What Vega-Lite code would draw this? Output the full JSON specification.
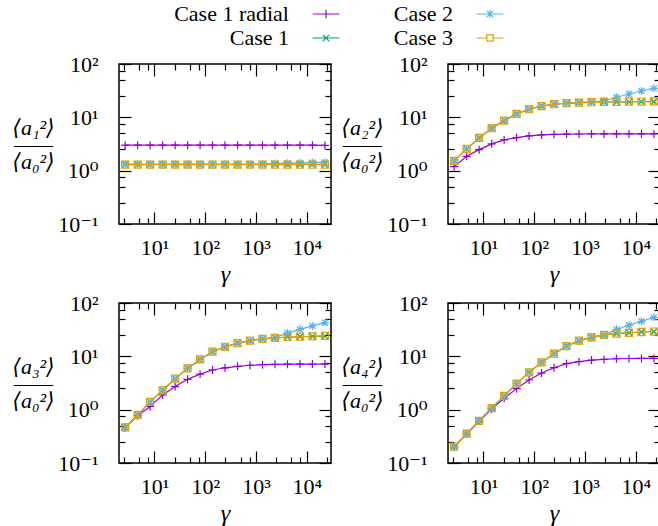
{
"$schema":"https://vega.github.io/schema/vega-lite/v6.json",
"padding":{"left":11,"top":3,"right":2,"bottom":2},
"bounds":"flush",
"columns":2,
"spacing":{"row":79,"column":117},
"data":{"values":[
{"panel":"a1","series":"Case 1 radial","gamma":2.64,"value":3.0},{"panel":"a1","series":"Case 1 radial","gamma":4.66,"value":3.0},{"panel":"a1","series":"Case 1 radial","gamma":8.2,"value":3.0},{"panel":"a1","series":"Case 1 radial","gamma":14.5,"value":3.0},{"panel":"a1","series":"Case 1 radial","gamma":25.5,"value":3.0},{"panel":"a1","series":"Case 1 radial","gamma":44.9,"value":3.0},{"panel":"a1","series":"Case 1 radial","gamma":79.1,"value":3.0},{"panel":"a1","series":"Case 1 radial","gamma":139,"value":3.0},{"panel":"a1","series":"Case 1 radial","gamma":245,"value":3.0},{"panel":"a1","series":"Case 1 radial","gamma":433,"value":3.0},{"panel":"a1","series":"Case 1 radial","gamma":762,"value":3.0},{"panel":"a1","series":"Case 1 radial","gamma":1343,"value":3.0},{"panel":"a1","series":"Case 1 radial","gamma":2366,"value":3.0},{"panel":"a1","series":"Case 1 radial","gamma":4169,"value":3.0},{"panel":"a1","series":"Case 1 radial","gamma":7345,"value":3.0},{"panel":"a1","series":"Case 1 radial","gamma":12940,"value":3.0},{"panel":"a1","series":"Case 1 radial","gamma":22800,"value":2.98},
{"panel":"a1","series":"Case 1","gamma":2.64,"value":1.31},{"panel":"a1","series":"Case 1","gamma":4.66,"value":1.31},{"panel":"a1","series":"Case 1","gamma":8.2,"value":1.31},{"panel":"a1","series":"Case 1","gamma":14.5,"value":1.31},{"panel":"a1","series":"Case 1","gamma":25.5,"value":1.31},{"panel":"a1","series":"Case 1","gamma":44.9,"value":1.31},{"panel":"a1","series":"Case 1","gamma":79.1,"value":1.31},{"panel":"a1","series":"Case 1","gamma":139,"value":1.31},{"panel":"a1","series":"Case 1","gamma":245,"value":1.31},{"panel":"a1","series":"Case 1","gamma":433,"value":1.31},{"panel":"a1","series":"Case 1","gamma":762,"value":1.31},{"panel":"a1","series":"Case 1","gamma":1343,"value":1.31},{"panel":"a1","series":"Case 1","gamma":2366,"value":1.31},{"panel":"a1","series":"Case 1","gamma":4169,"value":1.31},{"panel":"a1","series":"Case 1","gamma":7345,"value":1.31},{"panel":"a1","series":"Case 1","gamma":12940,"value":1.31},{"panel":"a1","series":"Case 1","gamma":22800,"value":1.31},
{"panel":"a1","series":"Case 2","gamma":2.64,"value":1.32},{"panel":"a1","series":"Case 2","gamma":4.66,"value":1.32},{"panel":"a1","series":"Case 2","gamma":8.2,"value":1.32},{"panel":"a1","series":"Case 2","gamma":14.5,"value":1.32},{"panel":"a1","series":"Case 2","gamma":25.5,"value":1.32},{"panel":"a1","series":"Case 2","gamma":44.9,"value":1.32},{"panel":"a1","series":"Case 2","gamma":79.1,"value":1.32},{"panel":"a1","series":"Case 2","gamma":139,"value":1.32},{"panel":"a1","series":"Case 2","gamma":245,"value":1.32},{"panel":"a1","series":"Case 2","gamma":433,"value":1.32},{"panel":"a1","series":"Case 2","gamma":762,"value":1.32},{"panel":"a1","series":"Case 2","gamma":1343,"value":1.34},{"panel":"a1","series":"Case 2","gamma":2366,"value":1.36},{"panel":"a1","series":"Case 2","gamma":4169,"value":1.38},{"panel":"a1","series":"Case 2","gamma":7345,"value":1.40},{"panel":"a1","series":"Case 2","gamma":12940,"value":1.42},{"panel":"a1","series":"Case 2","gamma":22800,"value":1.44},
{"panel":"a1","series":"Case 3","gamma":2.64,"value":1.30},{"panel":"a1","series":"Case 3","gamma":4.66,"value":1.30},{"panel":"a1","series":"Case 3","gamma":8.2,"value":1.30},{"panel":"a1","series":"Case 3","gamma":14.5,"value":1.30},{"panel":"a1","series":"Case 3","gamma":25.5,"value":1.30},{"panel":"a1","series":"Case 3","gamma":44.9,"value":1.30},{"panel":"a1","series":"Case 3","gamma":79.1,"value":1.30},{"panel":"a1","series":"Case 3","gamma":139,"value":1.30},{"panel":"a1","series":"Case 3","gamma":245,"value":1.30},{"panel":"a1","series":"Case 3","gamma":433,"value":1.30},{"panel":"a1","series":"Case 3","gamma":762,"value":1.30},{"panel":"a1","series":"Case 3","gamma":1343,"value":1.30},{"panel":"a1","series":"Case 3","gamma":2366,"value":1.30},{"panel":"a1","series":"Case 3","gamma":4169,"value":1.30},{"panel":"a1","series":"Case 3","gamma":7345,"value":1.30},{"panel":"a1","series":"Case 3","gamma":12940,"value":1.30},{"panel":"a1","series":"Case 3","gamma":22800,"value":1.30},
{"panel":"a2","series":"Case 1 radial","gamma":2.64,"value":1.19},{"panel":"a2","series":"Case 1 radial","gamma":4.66,"value":1.86},{"panel":"a2","series":"Case 1 radial","gamma":8.2,"value":2.48},{"panel":"a2","series":"Case 1 radial","gamma":14.5,"value":3.18},{"panel":"a2","series":"Case 1 radial","gamma":25.5,"value":3.78},{"panel":"a2","series":"Case 1 radial","gamma":44.9,"value":4.17},{"panel":"a2","series":"Case 1 radial","gamma":79.1,"value":4.49},{"panel":"a2","series":"Case 1 radial","gamma":139,"value":4.68},{"panel":"a2","series":"Case 1 radial","gamma":245,"value":4.8},{"panel":"a2","series":"Case 1 radial","gamma":433,"value":4.85},{"panel":"a2","series":"Case 1 radial","gamma":762,"value":4.87},{"panel":"a2","series":"Case 1 radial","gamma":1343,"value":4.88},{"panel":"a2","series":"Case 1 radial","gamma":2366,"value":4.88},{"panel":"a2","series":"Case 1 radial","gamma":4169,"value":4.88},{"panel":"a2","series":"Case 1 radial","gamma":7345,"value":4.88},{"panel":"a2","series":"Case 1 radial","gamma":12940,"value":4.88},{"panel":"a2","series":"Case 1 radial","gamma":22800,"value":4.88},
{"panel":"a2","series":"Case 1","gamma":2.64,"value":1.53},{"panel":"a2","series":"Case 1","gamma":4.66,"value":2.56},{"panel":"a2","series":"Case 1","gamma":8.2,"value":4.11},{"panel":"a2","series":"Case 1","gamma":14.5,"value":6.25},{"panel":"a2","series":"Case 1","gamma":25.5,"value":8.67},{"panel":"a2","series":"Case 1","gamma":44.9,"value":11.6},{"panel":"a2","series":"Case 1","gamma":79.1,"value":14.2},{"panel":"a2","series":"Case 1","gamma":139,"value":16.3},{"panel":"a2","series":"Case 1","gamma":245,"value":17.6},{"panel":"a2","series":"Case 1","gamma":433,"value":18.4},{"panel":"a2","series":"Case 1","gamma":762,"value":18.8},{"panel":"a2","series":"Case 1","gamma":1343,"value":19.2},{"panel":"a2","series":"Case 1","gamma":2366,"value":19.4},{"panel":"a2","series":"Case 1","gamma":4169,"value":19.5},{"panel":"a2","series":"Case 1","gamma":7345,"value":19.5},{"panel":"a2","series":"Case 1","gamma":12940,"value":19.6},{"panel":"a2","series":"Case 1","gamma":22800,"value":19.6},
{"panel":"a2","series":"Case 2","gamma":2.64,"value":1.53},{"panel":"a2","series":"Case 2","gamma":4.66,"value":2.56},{"panel":"a2","series":"Case 2","gamma":8.2,"value":4.11},{"panel":"a2","series":"Case 2","gamma":14.5,"value":6.25},{"panel":"a2","series":"Case 2","gamma":25.5,"value":8.67},{"panel":"a2","series":"Case 2","gamma":44.9,"value":11.6},{"panel":"a2","series":"Case 2","gamma":79.1,"value":14.2},{"panel":"a2","series":"Case 2","gamma":139,"value":16.3},{"panel":"a2","series":"Case 2","gamma":245,"value":17.6},{"panel":"a2","series":"Case 2","gamma":433,"value":18.4},{"panel":"a2","series":"Case 2","gamma":762,"value":18.9},{"panel":"a2","series":"Case 2","gamma":1343,"value":19.4},{"panel":"a2","series":"Case 2","gamma":2366,"value":20.3},{"panel":"a2","series":"Case 2","gamma":4169,"value":23.8},{"panel":"a2","series":"Case 2","gamma":7345,"value":27.4},{"panel":"a2","series":"Case 2","gamma":12940,"value":31.2},{"panel":"a2","series":"Case 2","gamma":22800,"value":35.0},
{"panel":"a2","series":"Case 3","gamma":2.64,"value":1.53},{"panel":"a2","series":"Case 3","gamma":4.66,"value":2.56},{"panel":"a2","series":"Case 3","gamma":8.2,"value":4.11},{"panel":"a2","series":"Case 3","gamma":14.5,"value":6.25},{"panel":"a2","series":"Case 3","gamma":25.5,"value":8.67},{"panel":"a2","series":"Case 3","gamma":44.9,"value":11.6},{"panel":"a2","series":"Case 3","gamma":79.1,"value":14.2},{"panel":"a2","series":"Case 3","gamma":139,"value":16.3},{"panel":"a2","series":"Case 3","gamma":245,"value":17.6},{"panel":"a2","series":"Case 3","gamma":433,"value":18.4},{"panel":"a2","series":"Case 3","gamma":762,"value":18.8},{"panel":"a2","series":"Case 3","gamma":1343,"value":19.2},{"panel":"a2","series":"Case 3","gamma":2366,"value":19.4},{"panel":"a2","series":"Case 3","gamma":4169,"value":19.6},{"panel":"a2","series":"Case 3","gamma":7345,"value":19.7},{"panel":"a2","series":"Case 3","gamma":12940,"value":19.8},{"panel":"a2","series":"Case 3","gamma":22800,"value":19.9},
{"panel":"a3","series":"Case 1 radial","gamma":2.64,"value":0.46},{"panel":"a3","series":"Case 1 radial","gamma":4.66,"value":0.77},{"panel":"a3","series":"Case 1 radial","gamma":8.2,"value":1.15},{"panel":"a3","series":"Case 1 radial","gamma":14.5,"value":1.89},{"panel":"a3","series":"Case 1 radial","gamma":25.5,"value":2.71},{"panel":"a3","series":"Case 1 radial","gamma":44.9,"value":3.71},{"panel":"a3","series":"Case 1 radial","gamma":79.1,"value":4.63},{"panel":"a3","series":"Case 1 radial","gamma":139,"value":5.55},{"panel":"a3","series":"Case 1 radial","gamma":245,"value":6.1},{"panel":"a3","series":"Case 1 radial","gamma":433,"value":6.5},{"panel":"a3","series":"Case 1 radial","gamma":762,"value":6.8},{"panel":"a3","series":"Case 1 radial","gamma":1343,"value":6.97},{"panel":"a3","series":"Case 1 radial","gamma":2366,"value":7.07},{"panel":"a3","series":"Case 1 radial","gamma":4169,"value":7.13},{"panel":"a3","series":"Case 1 radial","gamma":7345,"value":7.16},{"panel":"a3","series":"Case 1 radial","gamma":12940,"value":7.16},{"panel":"a3","series":"Case 1 radial","gamma":22800,"value":7.16},
{"panel":"a3","series":"Case 1","gamma":2.64,"value":0.466},{"panel":"a3","series":"Case 1","gamma":4.66,"value":0.8},{"panel":"a3","series":"Case 1","gamma":8.2,"value":1.4},{"panel":"a3","series":"Case 1","gamma":14.5,"value":2.31},{"panel":"a3","series":"Case 1","gamma":25.5,"value":3.82},{"panel":"a3","series":"Case 1","gamma":44.9,"value":5.94},{"panel":"a3","series":"Case 1","gamma":79.1,"value":8.75},{"panel":"a3","series":"Case 1","gamma":139,"value":12.2},{"panel":"a3","series":"Case 1","gamma":245,"value":15.1},{"panel":"a3","series":"Case 1","gamma":433,"value":17.6},{"panel":"a3","series":"Case 1","gamma":762,"value":19.8},{"panel":"a3","series":"Case 1","gamma":1343,"value":21.3},{"panel":"a3","series":"Case 1","gamma":2366,"value":22.2},{"panel":"a3","series":"Case 1","gamma":4169,"value":22.8},{"panel":"a3","series":"Case 1","gamma":7345,"value":23.3},{"panel":"a3","series":"Case 1","gamma":12940,"value":23.7},{"panel":"a3","series":"Case 1","gamma":22800,"value":24.0},
{"panel":"a3","series":"Case 2","gamma":2.64,"value":0.466},{"panel":"a3","series":"Case 2","gamma":4.66,"value":0.8},{"panel":"a3","series":"Case 2","gamma":8.2,"value":1.4},{"panel":"a3","series":"Case 2","gamma":14.5,"value":2.31},{"panel":"a3","series":"Case 2","gamma":25.5,"value":3.82},{"panel":"a3","series":"Case 2","gamma":44.9,"value":5.94},{"panel":"a3","series":"Case 2","gamma":79.1,"value":8.75},{"panel":"a3","series":"Case 2","gamma":139,"value":12.2},{"panel":"a3","series":"Case 2","gamma":245,"value":15.1},{"panel":"a3","series":"Case 2","gamma":433,"value":17.6},{"panel":"a3","series":"Case 2","gamma":762,"value":19.6},{"panel":"a3","series":"Case 2","gamma":1343,"value":21.3},{"panel":"a3","series":"Case 2","gamma":2366,"value":22.4},{"panel":"a3","series":"Case 2","gamma":4169,"value":27.5},{"panel":"a3","series":"Case 2","gamma":7345,"value":32.1},{"panel":"a3","series":"Case 2","gamma":12940,"value":37.2},{"panel":"a3","series":"Case 2","gamma":22800,"value":42.9},
{"panel":"a3","series":"Case 3","gamma":2.64,"value":0.466},{"panel":"a3","series":"Case 3","gamma":4.66,"value":0.8},{"panel":"a3","series":"Case 3","gamma":8.2,"value":1.4},{"panel":"a3","series":"Case 3","gamma":14.5,"value":2.31},{"panel":"a3","series":"Case 3","gamma":25.5,"value":3.82},{"panel":"a3","series":"Case 3","gamma":44.9,"value":5.94},{"panel":"a3","series":"Case 3","gamma":79.1,"value":8.75},{"panel":"a3","series":"Case 3","gamma":139,"value":12.2},{"panel":"a3","series":"Case 3","gamma":245,"value":15.1},{"panel":"a3","series":"Case 3","gamma":433,"value":17.6},{"panel":"a3","series":"Case 3","gamma":762,"value":19.8},{"panel":"a3","series":"Case 3","gamma":1343,"value":21.3},{"panel":"a3","series":"Case 3","gamma":2366,"value":22.2},{"panel":"a3","series":"Case 3","gamma":4169,"value":22.9},{"panel":"a3","series":"Case 3","gamma":7345,"value":23.4},{"panel":"a3","series":"Case 3","gamma":12940,"value":23.8},{"panel":"a3","series":"Case 3","gamma":22800,"value":24.2},
{"panel":"a4","series":"Case 1 radial","gamma":2.64,"value":0.2},{"panel":"a4","series":"Case 1 radial","gamma":4.66,"value":0.35},{"panel":"a4","series":"Case 1 radial","gamma":8.2,"value":0.61},{"panel":"a4","series":"Case 1 radial","gamma":14.5,"value":1.03},{"panel":"a4","series":"Case 1 radial","gamma":25.5,"value":1.64},{"panel":"a4","series":"Case 1 radial","gamma":44.9,"value":2.48},{"panel":"a4","series":"Case 1 radial","gamma":79.1,"value":3.6},{"panel":"a4","series":"Case 1 radial","gamma":139,"value":4.86},{"panel":"a4","series":"Case 1 radial","gamma":245,"value":6.12},{"panel":"a4","series":"Case 1 radial","gamma":433,"value":7.28},{"panel":"a4","series":"Case 1 radial","gamma":762,"value":7.93},{"panel":"a4","series":"Case 1 radial","gamma":1343,"value":8.5},{"panel":"a4","series":"Case 1 radial","gamma":2366,"value":8.75},{"panel":"a4","series":"Case 1 radial","gamma":4169,"value":9.0},{"panel":"a4","series":"Case 1 radial","gamma":7345,"value":9.1},{"panel":"a4","series":"Case 1 radial","gamma":12940,"value":9.14},{"panel":"a4","series":"Case 1 radial","gamma":22800,"value":9.14},
{"panel":"a4","series":"Case 1","gamma":2.64,"value":0.202},{"panel":"a4","series":"Case 1","gamma":4.66,"value":0.354},{"panel":"a4","series":"Case 1","gamma":8.2,"value":0.618},{"panel":"a4","series":"Case 1","gamma":14.5,"value":1.07},{"panel":"a4","series":"Case 1","gamma":25.5,"value":1.81},{"panel":"a4","series":"Case 1","gamma":44.9,"value":3.08},{"panel":"a4","series":"Case 1","gamma":79.1,"value":5.01},{"panel":"a4","series":"Case 1","gamma":139,"value":7.69},{"panel":"a4","series":"Case 1","gamma":245,"value":11.2},{"panel":"a4","series":"Case 1","gamma":433,"value":15.5},{"panel":"a4","series":"Case 1","gamma":762,"value":19.8},{"panel":"a4","series":"Case 1","gamma":1343,"value":22.8},{"panel":"a4","series":"Case 1","gamma":2366,"value":25.3},{"panel":"a4","series":"Case 1","gamma":4169,"value":26.7},{"panel":"a4","series":"Case 1","gamma":7345,"value":27.6},{"panel":"a4","series":"Case 1","gamma":12940,"value":28.6},{"panel":"a4","series":"Case 1","gamma":22800,"value":29.2},
{"panel":"a4","series":"Case 2","gamma":2.64,"value":0.202},{"panel":"a4","series":"Case 2","gamma":4.66,"value":0.354},{"panel":"a4","series":"Case 2","gamma":8.2,"value":0.618},{"panel":"a4","series":"Case 2","gamma":14.5,"value":1.07},{"panel":"a4","series":"Case 2","gamma":25.5,"value":1.81},{"panel":"a4","series":"Case 2","gamma":44.9,"value":3.08},{"panel":"a4","series":"Case 2","gamma":79.1,"value":5.01},{"panel":"a4","series":"Case 2","gamma":139,"value":7.69},{"panel":"a4","series":"Case 2","gamma":245,"value":11.2},{"panel":"a4","series":"Case 2","gamma":433,"value":15.5},{"panel":"a4","series":"Case 2","gamma":762,"value":19.4},{"panel":"a4","series":"Case 2","gamma":1343,"value":22.3},{"panel":"a4","series":"Case 2","gamma":2366,"value":25.0},{"panel":"a4","series":"Case 2","gamma":4169,"value":32.1},{"panel":"a4","series":"Case 2","gamma":7345,"value":38.2},{"panel":"a4","series":"Case 2","gamma":12940,"value":45.4},{"panel":"a4","series":"Case 2","gamma":22800,"value":53.8},
{"panel":"a4","series":"Case 3","gamma":2.64,"value":0.202},{"panel":"a4","series":"Case 3","gamma":4.66,"value":0.354},{"panel":"a4","series":"Case 3","gamma":8.2,"value":0.618},{"panel":"a4","series":"Case 3","gamma":14.5,"value":1.07},{"panel":"a4","series":"Case 3","gamma":25.5,"value":1.81},{"panel":"a4","series":"Case 3","gamma":44.9,"value":3.08},{"panel":"a4","series":"Case 3","gamma":79.1,"value":5.01},{"panel":"a4","series":"Case 3","gamma":139,"value":7.69},{"panel":"a4","series":"Case 3","gamma":245,"value":11.2},{"panel":"a4","series":"Case 3","gamma":433,"value":15.5},{"panel":"a4","series":"Case 3","gamma":762,"value":19.8},{"panel":"a4","series":"Case 3","gamma":1343,"value":22.8},{"panel":"a4","series":"Case 3","gamma":2366,"value":25.3},{"panel":"a4","series":"Case 3","gamma":4169,"value":26.7},{"panel":"a4","series":"Case 3","gamma":7345,"value":27.6},{"panel":"a4","series":"Case 3","gamma":12940,"value":28.6},{"panel":"a4","series":"Case 3","gamma":22800,"value":29.2}
]},
"concat":[
{"width":212,"height":160,
"transform":[{"filter":"datum.panel == 'a1'"}],
"encoding":{"color":{"field":"series","type":"nominal","scale":{"domain":["Case 1 radial","Case 1","Case 2","Case 3"],"range":["#9400d3","#009e73","#56b4e9","#e69f00"]},"legend":{"orient":"none","legendX":186,"legendY":-61,"columns":2,"title":null,"labelAlign":"right","labelOffset":-48,"symbolOffset":10,"symbolSize":196,"symbolStrokeWidth":1.2,"rowPadding":2,"columnPadding":51,"labelLimit":0,"encode":{"symbols":{"update":{"shape":{"signal":"datum.value == 'Case 1 radial' ? 'M-1.9,0L1.9,0M0,-0.6L0,0.6' : datum.value == 'Case 1' ? 'M-1.9,0L1.9,0M-0.45,-0.45L0.45,0.45M-0.45,0.45L0.45,-0.45' : datum.value == 'Case 2' ? 'M-1.9,0L1.9,0M0,-0.6L0,0.6M-0.45,-0.45L0.45,0.45M-0.45,0.45L0.45,-0.45' : 'M-1.9,0L-0.45,0M0.45,0L1.9,0M-0.45,-0.45L0.45,-0.45L0.45,0.45L-0.45,0.45Z'"},"fill":{"value":"transparent"}}}}}}},
"layer":[
{"transform":[{"filter":"datum.series == 'Case 1 radial'"}],"mark":{"type":"line","strokeWidth":1.2,"point":{"shape":"M-1,0L1,0M0,-1L0,1","filled":false,"size":64,"strokeWidth":1.2}},
"encoding":{"x":{"field":"gamma","type":"quantitative","scale":{"type":"log","domain":[2,30000],"nice":false},"axis":{"orient":"bottom","values":[10,100,1000,10000],"tickSize":-12,"labelPadding":25,"labelExpr":"datum.value < 50 ? '10¹' : datum.value < 500 ? '10²' : datum.value < 5000 ? '10³' : '10⁴'","labelFlush":false,"labelOverlap":false,"title":"γ","titleFontStyle":"italic","titleFontSize":24,"titleY":57,"titleBaseline":"alphabetic","domain":false}},
"y":{"field":"value","type":"quantitative","scale":{"type":"log","domain":[0.1,100],"nice":false},"axis":{"orient":"left","values":[0.1,1,10,100],"tickSize":-12,"labelPadding":33,"labelExpr":"datum.value < 0.5 ? '10⁻¹' : datum.value < 5 ? '10⁰' : datum.value < 50 ? '10¹' : '10²'","labelFlush":false,"labelOverlap":false,"labelBaseline":"middle","title":["⟨a₁²⟩","——","⟨a₀²⟩"],"titleAngle":0,"titleAlign":"center","titleBaseline":"middle","titleX":-86,"titleY":63,"titleLineHeight":17,"titleFontStyle":"italic","domain":false}}}},
{"transform":[{"filter":"datum.series == 'Case 1'"}],"mark":{"type":"line","strokeWidth":1.2,"point":{"shape":"M-0.8,-0.8L0.8,0.8M-0.8,0.8L0.8,-0.8","filled":false,"size":64,"strokeWidth":1.2}},
"encoding":{"x":{"field":"gamma","type":"quantitative","scale":{"type":"log","domain":[2,30000],"nice":false},"axis":{"orient":"bottom","values":[2.5,5,7.5,25,50,75,250,500,750,2500,5000,7500,25000],"tickSize":-6,"labels":false,"title":null,"domain":false}},
"y":{"field":"value","type":"quantitative","scale":{"type":"log","domain":[0.1,100],"nice":false},"axis":{"orient":"left","values":[0.25,0.5,0.75,2.5,5,7.5,25,50,75],"tickSize":-6,"labels":false,"title":null,"domain":false}}}},
{"transform":[{"filter":"datum.series == 'Case 2'"}],"mark":{"type":"line","strokeWidth":1.2,"point":{"shape":"M-1,0L1,0M0,-1L0,1M-0.75,-0.75L0.75,0.75M-0.75,0.75L0.75,-0.75","filled":false,"size":64,"strokeWidth":1.2}},
"encoding":{"x":{"field":"gamma","type":"quantitative","scale":{"type":"log","domain":[2,30000],"nice":false},"axis":{"orient":"top","values":[10,100,1000,10000],"tickSize":-12,"labels":false,"title":null,"domain":false}},
"y":{"field":"value","type":"quantitative","scale":{"type":"log","domain":[0.1,100],"nice":false},"axis":{"orient":"right","values":[0.1,1,10,100],"tickSize":-12,"labels":false,"title":null,"domain":false}}}},
{"transform":[{"filter":"datum.series == 'Case 3'"}],"mark":{"type":"line","strokeWidth":1.2,"point":{"shape":"square","filled":false,"size":50,"strokeWidth":1.2}},
"encoding":{"x":{"field":"gamma","type":"quantitative","scale":{"type":"log","domain":[2,30000],"nice":false},"axis":{"orient":"top","values":[2.5,5,7.5,25,50,75,250,500,750,2500,5000,7500,25000],"tickSize":-6,"labels":false,"title":null,"domain":false}},
"y":{"field":"value","type":"quantitative","scale":{"type":"log","domain":[0.1,100],"nice":false},"axis":{"orient":"right","values":[0.25,0.5,0.75,2.5,5,7.5,25,50,75],"tickSize":-6,"labels":false,"title":null,"domain":false}}}}
],
"resolve":{"axis":{"x":"independent","y":"independent"}}},
{"width":212,"height":160,
"transform":[{"filter":"datum.panel == 'a2'"}],
"encoding":{"color":{"field":"series","type":"nominal","scale":{"domain":["Case 1 radial","Case 1","Case 2","Case 3"],"range":["#9400d3","#009e73","#56b4e9","#e69f00"]},"legend":{"orient":"none","legendX":186,"legendY":-61,"columns":2,"title":null,"labelAlign":"right","labelOffset":-48,"symbolOffset":10,"symbolSize":196,"symbolStrokeWidth":1.2,"rowPadding":2,"columnPadding":51,"labelLimit":0,"encode":{"symbols":{"update":{"shape":{"signal":"datum.value == 'Case 1 radial' ? 'M-1.9,0L1.9,0M0,-0.6L0,0.6' : datum.value == 'Case 1' ? 'M-1.9,0L1.9,0M-0.45,-0.45L0.45,0.45M-0.45,0.45L0.45,-0.45' : datum.value == 'Case 2' ? 'M-1.9,0L1.9,0M0,-0.6L0,0.6M-0.45,-0.45L0.45,0.45M-0.45,0.45L0.45,-0.45' : 'M-1.9,0L-0.45,0M0.45,0L1.9,0M-0.45,-0.45L0.45,-0.45L0.45,0.45L-0.45,0.45Z'"},"fill":{"value":"transparent"}}}}}}},
"layer":[
{"transform":[{"filter":"datum.series == 'Case 1 radial'"}],"mark":{"type":"line","strokeWidth":1.2,"point":{"shape":"M-1,0L1,0M0,-1L0,1","filled":false,"size":64,"strokeWidth":1.2}},
"encoding":{"x":{"field":"gamma","type":"quantitative","scale":{"type":"log","domain":[2,30000],"nice":false},"axis":{"orient":"bottom","values":[10,100,1000,10000],"tickSize":-12,"labelPadding":25,"labelExpr":"datum.value < 50 ? '10¹' : datum.value < 500 ? '10²' : datum.value < 5000 ? '10³' : '10⁴'","labelFlush":false,"labelOverlap":false,"title":"γ","titleFontStyle":"italic","titleFontSize":24,"titleY":57,"titleBaseline":"alphabetic","domain":false}},
"y":{"field":"value","type":"quantitative","scale":{"type":"log","domain":[0.1,100],"nice":false},"axis":{"orient":"left","values":[0.1,1,10,100],"tickSize":-12,"labelPadding":33,"labelExpr":"datum.value < 0.5 ? '10⁻¹' : datum.value < 5 ? '10⁰' : datum.value < 50 ? '10¹' : '10²'","labelFlush":false,"labelOverlap":false,"labelBaseline":"middle","title":["⟨a₂²⟩","——","⟨a₀²⟩"],"titleAngle":0,"titleAlign":"center","titleBaseline":"middle","titleX":-86,"titleY":63,"titleLineHeight":17,"titleFontStyle":"italic","domain":false}}}},
{"transform":[{"filter":"datum.series == 'Case 1'"}],"mark":{"type":"line","strokeWidth":1.2,"point":{"shape":"M-0.8,-0.8L0.8,0.8M-0.8,0.8L0.8,-0.8","filled":false,"size":64,"strokeWidth":1.2}},
"encoding":{"x":{"field":"gamma","type":"quantitative","scale":{"type":"log","domain":[2,30000],"nice":false},"axis":{"orient":"bottom","values":[2.5,5,7.5,25,50,75,250,500,750,2500,5000,7500,25000],"tickSize":-6,"labels":false,"title":null,"domain":false}},
"y":{"field":"value","type":"quantitative","scale":{"type":"log","domain":[0.1,100],"nice":false},"axis":{"orient":"left","values":[0.25,0.5,0.75,2.5,5,7.5,25,50,75],"tickSize":-6,"labels":false,"title":null,"domain":false}}}},
{"transform":[{"filter":"datum.series == 'Case 2'"}],"mark":{"type":"line","strokeWidth":1.2,"point":{"shape":"M-1,0L1,0M0,-1L0,1M-0.75,-0.75L0.75,0.75M-0.75,0.75L0.75,-0.75","filled":false,"size":64,"strokeWidth":1.2}},
"encoding":{"x":{"field":"gamma","type":"quantitative","scale":{"type":"log","domain":[2,30000],"nice":false},"axis":{"orient":"top","values":[10,100,1000,10000],"tickSize":-12,"labels":false,"title":null,"domain":false}},
"y":{"field":"value","type":"quantitative","scale":{"type":"log","domain":[0.1,100],"nice":false},"axis":{"orient":"right","values":[0.1,1,10,100],"tickSize":-12,"labels":false,"title":null,"domain":false}}}},
{"transform":[{"filter":"datum.series == 'Case 3'"}],"mark":{"type":"line","strokeWidth":1.2,"point":{"shape":"square","filled":false,"size":50,"strokeWidth":1.2}},
"encoding":{"x":{"field":"gamma","type":"quantitative","scale":{"type":"log","domain":[2,30000],"nice":false},"axis":{"orient":"top","values":[2.5,5,7.5,25,50,75,250,500,750,2500,5000,7500,25000],"tickSize":-6,"labels":false,"title":null,"domain":false}},
"y":{"field":"value","type":"quantitative","scale":{"type":"log","domain":[0.1,100],"nice":false},"axis":{"orient":"right","values":[0.25,0.5,0.75,2.5,5,7.5,25,50,75],"tickSize":-6,"labels":false,"title":null,"domain":false}}}}
],
"resolve":{"axis":{"x":"independent","y":"independent"}}},
{"width":212,"height":160,
"transform":[{"filter":"datum.panel == 'a3'"}],
"encoding":{"color":{"field":"series","type":"nominal","scale":{"domain":["Case 1 radial","Case 1","Case 2","Case 3"],"range":["#9400d3","#009e73","#56b4e9","#e69f00"]},"legend":{"orient":"none","legendX":186,"legendY":-61,"columns":2,"title":null,"labelAlign":"right","labelOffset":-48,"symbolOffset":10,"symbolSize":196,"symbolStrokeWidth":1.2,"rowPadding":2,"columnPadding":51,"labelLimit":0,"encode":{"symbols":{"update":{"shape":{"signal":"datum.value == 'Case 1 radial' ? 'M-1.9,0L1.9,0M0,-0.6L0,0.6' : datum.value == 'Case 1' ? 'M-1.9,0L1.9,0M-0.45,-0.45L0.45,0.45M-0.45,0.45L0.45,-0.45' : datum.value == 'Case 2' ? 'M-1.9,0L1.9,0M0,-0.6L0,0.6M-0.45,-0.45L0.45,0.45M-0.45,0.45L0.45,-0.45' : 'M-1.9,0L-0.45,0M0.45,0L1.9,0M-0.45,-0.45L0.45,-0.45L0.45,0.45L-0.45,0.45Z'"},"fill":{"value":"transparent"}}}}}}},
"layer":[
{"transform":[{"filter":"datum.series == 'Case 1 radial'"}],"mark":{"type":"line","strokeWidth":1.2,"point":{"shape":"M-1,0L1,0M0,-1L0,1","filled":false,"size":64,"strokeWidth":1.2}},
"encoding":{"x":{"field":"gamma","type":"quantitative","scale":{"type":"log","domain":[2,30000],"nice":false},"axis":{"orient":"bottom","values":[10,100,1000,10000],"tickSize":-12,"labelPadding":25,"labelExpr":"datum.value < 50 ? '10¹' : datum.value < 500 ? '10²' : datum.value < 5000 ? '10³' : '10⁴'","labelFlush":false,"labelOverlap":false,"title":"γ","titleFontStyle":"italic","titleFontSize":24,"titleY":57,"titleBaseline":"alphabetic","domain":false}},
"y":{"field":"value","type":"quantitative","scale":{"type":"log","domain":[0.1,100],"nice":false},"axis":{"orient":"left","values":[0.1,1,10,100],"tickSize":-12,"labelPadding":33,"labelExpr":"datum.value < 0.5 ? '10⁻¹' : datum.value < 5 ? '10⁰' : datum.value < 50 ? '10¹' : '10²'","labelFlush":false,"labelOverlap":false,"labelBaseline":"middle","title":["⟨a₃²⟩","——","⟨a₀²⟩"],"titleAngle":0,"titleAlign":"center","titleBaseline":"middle","titleX":-86,"titleY":63,"titleLineHeight":17,"titleFontStyle":"italic","domain":false}}}},
{"transform":[{"filter":"datum.series == 'Case 1'"}],"mark":{"type":"line","strokeWidth":1.2,"point":{"shape":"M-0.8,-0.8L0.8,0.8M-0.8,0.8L0.8,-0.8","filled":false,"size":64,"strokeWidth":1.2}},
"encoding":{"x":{"field":"gamma","type":"quantitative","scale":{"type":"log","domain":[2,30000],"nice":false},"axis":{"orient":"bottom","values":[2.5,5,7.5,25,50,75,250,500,750,2500,5000,7500,25000],"tickSize":-6,"labels":false,"title":null,"domain":false}},
"y":{"field":"value","type":"quantitative","scale":{"type":"log","domain":[0.1,100],"nice":false},"axis":{"orient":"left","values":[0.25,0.5,0.75,2.5,5,7.5,25,50,75],"tickSize":-6,"labels":false,"title":null,"domain":false}}}},
{"transform":[{"filter":"datum.series == 'Case 2'"}],"mark":{"type":"line","strokeWidth":1.2,"point":{"shape":"M-1,0L1,0M0,-1L0,1M-0.75,-0.75L0.75,0.75M-0.75,0.75L0.75,-0.75","filled":false,"size":64,"strokeWidth":1.2}},
"encoding":{"x":{"field":"gamma","type":"quantitative","scale":{"type":"log","domain":[2,30000],"nice":false},"axis":{"orient":"top","values":[10,100,1000,10000],"tickSize":-12,"labels":false,"title":null,"domain":false}},
"y":{"field":"value","type":"quantitative","scale":{"type":"log","domain":[0.1,100],"nice":false},"axis":{"orient":"right","values":[0.1,1,10,100],"tickSize":-12,"labels":false,"title":null,"domain":false}}}},
{"transform":[{"filter":"datum.series == 'Case 3'"}],"mark":{"type":"line","strokeWidth":1.2,"point":{"shape":"square","filled":false,"size":50,"strokeWidth":1.2}},
"encoding":{"x":{"field":"gamma","type":"quantitative","scale":{"type":"log","domain":[2,30000],"nice":false},"axis":{"orient":"top","values":[2.5,5,7.5,25,50,75,250,500,750,2500,5000,7500,25000],"tickSize":-6,"labels":false,"title":null,"domain":false}},
"y":{"field":"value","type":"quantitative","scale":{"type":"log","domain":[0.1,100],"nice":false},"axis":{"orient":"right","values":[0.25,0.5,0.75,2.5,5,7.5,25,50,75],"tickSize":-6,"labels":false,"title":null,"domain":false}}}}
],
"resolve":{"axis":{"x":"independent","y":"independent"}}},
{"width":212,"height":160,
"transform":[{"filter":"datum.panel == 'a4'"}],
"encoding":{"color":{"field":"series","type":"nominal","scale":{"domain":["Case 1 radial","Case 1","Case 2","Case 3"],"range":["#9400d3","#009e73","#56b4e9","#e69f00"]},"legend":{"orient":"none","legendX":186,"legendY":-61,"columns":2,"title":null,"labelAlign":"right","labelOffset":-48,"symbolOffset":10,"symbolSize":196,"symbolStrokeWidth":1.2,"rowPadding":2,"columnPadding":51,"labelLimit":0,"encode":{"symbols":{"update":{"shape":{"signal":"datum.value == 'Case 1 radial' ? 'M-1.9,0L1.9,0M0,-0.6L0,0.6' : datum.value == 'Case 1' ? 'M-1.9,0L1.9,0M-0.45,-0.45L0.45,0.45M-0.45,0.45L0.45,-0.45' : datum.value == 'Case 2' ? 'M-1.9,0L1.9,0M0,-0.6L0,0.6M-0.45,-0.45L0.45,0.45M-0.45,0.45L0.45,-0.45' : 'M-1.9,0L-0.45,0M0.45,0L1.9,0M-0.45,-0.45L0.45,-0.45L0.45,0.45L-0.45,0.45Z'"},"fill":{"value":"transparent"}}}}}}},
"layer":[
{"transform":[{"filter":"datum.series == 'Case 1 radial'"}],"mark":{"type":"line","strokeWidth":1.2,"point":{"shape":"M-1,0L1,0M0,-1L0,1","filled":false,"size":64,"strokeWidth":1.2}},
"encoding":{"x":{"field":"gamma","type":"quantitative","scale":{"type":"log","domain":[2,30000],"nice":false},"axis":{"orient":"bottom","values":[10,100,1000,10000],"tickSize":-12,"labelPadding":25,"labelExpr":"datum.value < 50 ? '10¹' : datum.value < 500 ? '10²' : datum.value < 5000 ? '10³' : '10⁴'","labelFlush":false,"labelOverlap":false,"title":"γ","titleFontStyle":"italic","titleFontSize":24,"titleY":57,"titleBaseline":"alphabetic","domain":false}},
"y":{"field":"value","type":"quantitative","scale":{"type":"log","domain":[0.1,100],"nice":false},"axis":{"orient":"left","values":[0.1,1,10,100],"tickSize":-12,"labelPadding":33,"labelExpr":"datum.value < 0.5 ? '10⁻¹' : datum.value < 5 ? '10⁰' : datum.value < 50 ? '10¹' : '10²'","labelFlush":false,"labelOverlap":false,"labelBaseline":"middle","title":["⟨a₄²⟩","——","⟨a₀²⟩"],"titleAngle":0,"titleAlign":"center","titleBaseline":"middle","titleX":-86,"titleY":63,"titleLineHeight":17,"titleFontStyle":"italic","domain":false}}}},
{"transform":[{"filter":"datum.series == 'Case 1'"}],"mark":{"type":"line","strokeWidth":1.2,"point":{"shape":"M-0.8,-0.8L0.8,0.8M-0.8,0.8L0.8,-0.8","filled":false,"size":64,"strokeWidth":1.2}},
"encoding":{"x":{"field":"gamma","type":"quantitative","scale":{"type":"log","domain":[2,30000],"nice":false},"axis":{"orient":"bottom","values":[2.5,5,7.5,25,50,75,250,500,750,2500,5000,7500,25000],"tickSize":-6,"labels":false,"title":null,"domain":false}},
"y":{"field":"value","type":"quantitative","scale":{"type":"log","domain":[0.1,100],"nice":false},"axis":{"orient":"left","values":[0.25,0.5,0.75,2.5,5,7.5,25,50,75],"tickSize":-6,"labels":false,"title":null,"domain":false}}}},
{"transform":[{"filter":"datum.series == 'Case 2'"}],"mark":{"type":"line","strokeWidth":1.2,"point":{"shape":"M-1,0L1,0M0,-1L0,1M-0.75,-0.75L0.75,0.75M-0.75,0.75L0.75,-0.75","filled":false,"size":64,"strokeWidth":1.2}},
"encoding":{"x":{"field":"gamma","type":"quantitative","scale":{"type":"log","domain":[2,30000],"nice":false},"axis":{"orient":"top","values":[10,100,1000,10000],"tickSize":-12,"labels":false,"title":null,"domain":false}},
"y":{"field":"value","type":"quantitative","scale":{"type":"log","domain":[0.1,100],"nice":false},"axis":{"orient":"right","values":[0.1,1,10,100],"tickSize":-12,"labels":false,"title":null,"domain":false}}}},
{"transform":[{"filter":"datum.series == 'Case 3'"}],"mark":{"type":"line","strokeWidth":1.2,"point":{"shape":"square","filled":false,"size":50,"strokeWidth":1.2}},
"encoding":{"x":{"field":"gamma","type":"quantitative","scale":{"type":"log","domain":[2,30000],"nice":false},"axis":{"orient":"top","values":[2.5,5,7.5,25,50,75,250,500,750,2500,5000,7500,25000],"tickSize":-6,"labels":false,"title":null,"domain":false}},
"y":{"field":"value","type":"quantitative","scale":{"type":"log","domain":[0.1,100],"nice":false},"axis":{"orient":"right","values":[0.25,0.5,0.75,2.5,5,7.5,25,50,75],"tickSize":-6,"labels":false,"title":null,"domain":false}}}}
],
"resolve":{"axis":{"x":"independent","y":"independent"}}}
],
"config":{
"view":{"stroke":"black","strokeWidth":1.5},
"axis":{"grid":false,"tickColor":"black","tickWidth":1.2,"labelFont":"Liberation Serif, Times New Roman, DejaVu Serif, serif","labelFontSize":22,"labelColor":"black","titleFont":"Liberation Serif, Times New Roman, DejaVu Serif, serif","titleFontSize":22,"titleColor":"black","titleFontWeight":"normal"},
"legend":{"labelFont":"Liberation Serif, Times New Roman, DejaVu Serif, serif","labelFontSize":22,"labelColor":"black"}
}
}
